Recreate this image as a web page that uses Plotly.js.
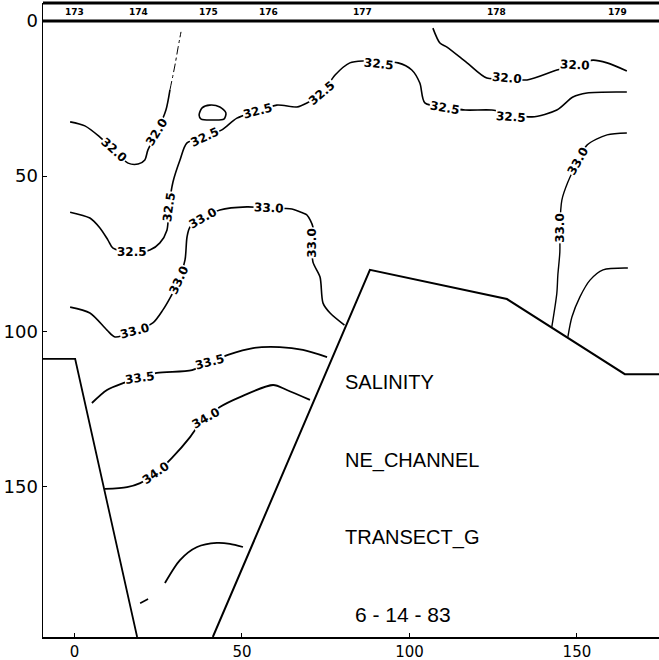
<!DOCTYPE html>
<html>
<head>
<meta charset="utf-8">
<script src="https://cdn.plot.ly/plotly-3.0.1.min.js"></script>
<style>html,body{margin:0;padding:0;background:#fff;}#chart{width:659px;height:660px;}</style>
</head>
<body>
<div id="chart"></div>
<script>
// ---- Data (distance along transect, depth) ----
var stationX = [0, 19, 40, 58, 86, 126, 162];
var stationLabels = ['173', '174', '175', '176', '177', '178', '179'];

var xTicks = [0, 50, 100, 150];
var yTicks = [0, 50, 100, 150];

// bottom profile
var bathyLeftX = [-9.4, 0.2, 18.7];
var bathyLeftY = [108.9, 108.9, 198.5];
var bathyRightX = [41.3, 88.2, 129.1, 164.3, 174.5];
var bathyRightY = [198.5, 80.2, 89.6, 113.8, 113.8];

// salinity isolines
var c320aX = [-1.3, 3.1, 7.6, 11.8, 16.0, 19.0, 21.0, 21.9, 24.6, 27.3, 28.5];
var c320aY = [32.5, 33.8, 37.4, 41.6, 45.8, 46.1, 44.8, 41.6, 35.8, 28.7, 22.2];
var c320aTopX = [28.5, 30.0, 30.9, 31.8];
var c320aTopY = [22.2, 14.2, 8.7, 3.5];

var lensX = [37.2, 38.1, 40.4, 43.4, 45.2, 44.6, 41.0, 37.8, 37.2];
var lensY = [30.3, 28.0, 27.1, 27.7, 29.6, 31.6, 31.9, 31.6, 30.3];

var c325aX = [-1.3, 4.6, 7.6, 10.0, 11.5, 17.2, 22.5, 25.5, 27.6, 28.2, 29.4, 31.5, 33.6, 39.0, 44.0, 48.5, 54.8, 60.4, 66.4, 69.4, 73.9, 77.8, 82.2, 86.1, 91.2, 96.6, 100.7, 103.1, 104.6, 110.6, 116.6, 124.6, 130.6, 136.6, 144.0, 148.8, 153.0, 164.9];
var c325aY = [61.6, 63.5, 66.7, 70.6, 73.2, 74.4, 73.8, 71.5, 67.4, 59.9, 51.9, 44.8, 39.3, 37.4, 35.1, 31.3, 29.0, 27.1, 27.7, 26.4, 23.2, 17.4, 13.5, 12.9, 13.2, 13.5, 15.8, 20.0, 26.4, 27.7, 28.7, 28.7, 30.0, 30.9, 28.7, 24.5, 23.2, 22.9];

var c320bX = [107.0, 109.1, 111.2, 117.2, 123.1, 129.1, 135.1, 144.0, 149.4, 154.8, 159.0, 164.9];
var c320bY = [2.3, 7.1, 8.4, 13.5, 18.4, 18.4, 19.0, 15.8, 14.2, 12.6, 13.5, 16.1];

var c330bX = [164.9, 159.0, 153.0, 150.3, 147.3, 145.5, 144.9, 144.9, 144.3, 144.0, 142.5];
var c330bY = [36.1, 36.7, 40.0, 45.1, 51.9, 57.7, 66.7, 74.4, 81.9, 87.7, 98.6];

var c335bX = [165.2, 157.8, 153.9, 150.9, 148.5, 147.3];
var c335bY = [79.6, 80.2, 83.5, 88.9, 95.4, 101.8];

var c330aX = [-1.3, 4.6, 9.7, 12.1, 18.1, 23.4, 26.4, 28.5, 31.2, 33.0, 33.6, 34.5, 38.4, 43.4, 51.5, 58.1, 64.9, 68.2, 69.4, 71.2, 70.9, 71.2, 73.3, 74.2, 76.3, 80.6];
var c330aY = [92.2, 94.1, 99.6, 101.8, 99.9, 97.3, 93.1, 89.3, 83.5, 77.0, 69.6, 66.4, 63.5, 60.9, 59.9, 60.3, 60.6, 61.9, 62.5, 66.4, 71.5, 77.7, 82.5, 90.9, 94.1, 98.0];

var c335aX = [5.2, 9.7, 14.5, 19.5, 24.6, 35.1, 40.4, 45.8, 53.3, 61.3, 68.2, 75.4];
var c335aY = [123.1, 118.9, 116.7, 115.0, 113.4, 112.5, 109.9, 107.6, 105.4, 105.1, 106.0, 108.3];

var c340X = [9.1, 15.7, 19.6, 24.3, 29.1, 34.5, 36.0, 39.3, 43.4, 49.4, 59.3, 63.4, 70.3];
var c340Y = [150.8, 150.2, 148.9, 145.7, 140.8, 134.1, 131.8, 127.9, 124.4, 121.2, 117.3, 118.9, 122.1];

var c345X = [27.0, 31.5, 36.6, 42.5, 46.4, 50.3];
var c345Y = [181.1, 173.7, 169.5, 168.2, 168.5, 169.5];
var c345DashX = [19.6, 23.1];
var c345DashY = [187.6, 185.6];

// isoline labels
var labelText = ['32.0', '32.0', '32.5', '32.5', '32.5', '32.5', '32.5', '32.5', '32.5', '32.5', '32.0', '32.0', '33.0', '33.0', '33.0', '33.0', '33.0', '33.0', '33.0', '33.5', '33.5', '34.0', '34.0'];
var labelX = [11.8, 24.6, 17.2, 28.2, 39.0, 54.8, 73.9, 90.9, 110.6, 130.3, 129.1, 149.4, 150.3, 144.9, 18.1, 31.2, 38.4, 58.1, 70.9, 19.5, 40.4, 24.3, 39.3];
var labelY = [41.6, 35.8, 74.4, 59.9, 37.4, 29.0, 23.2, 13.7, 27.9, 30.8, 18.4, 14.2, 45.1, 66.7, 99.9, 83.5, 63.5, 60.3, 71.5, 115.0, 109.9, 145.7, 127.9];
var labelAngle = [42, -58, 0, -82, -25, -15, -40, 6, 10, 4, 5, 3, -60, -90, -15, -65, -30, 3, -90, -8, -15, -35, -30];

var infoText = ['SALINITY', 'NE_CHANNEL', 'TRANSECT_G', '6 - 14 - 83'];
var infoY = [116.3, 141.5, 166.5, 191.4];

// ---- Build traces ----
function line(x, y, w, dash, shape) {
  return {x: x, y: y, type: 'scatter', mode: 'lines', hoverinfo: 'skip', showlegend: false,
    line: {color: '#000', width: w, dash: dash || 'solid', shape: shape || 'spline', smoothing: 0.8}};
}
var traces = [
  line(bathyLeftX, bathyLeftY, 1.8, 'solid', 'linear'),
  line(bathyRightX, bathyRightY, 2, 'solid', 'linear'),
  line(c320aX, c320aY, 1.6),
  line(c320aTopX, c320aTopY, 1, 'dashdot'),
  line(lensX, lensY, 1.6),
  line(c325aX, c325aY, 1.6),
  line(c320bX, c320bY, 1.6),
  line(c330bX, c330bY, 1.4),
  line(c335bX, c335bY, 1.4),
  line(c330aX, c330aY, 1.6),
  line(c335aX, c335aY, 1.8),
  line(c340X, c340Y, 1.8),
  line(c345X, c345Y, 1.8),
  line(c345DashX, c345DashY, 1.6, 'dash', 'linear')
];

var annotations = [];
for (var i = 0; i < labelText.length; i++) {
  annotations.push({x: labelX[i], y: labelY[i], xref: 'x', yref: 'y', text: labelText[i],
    showarrow: false, textangle: labelAngle[i], bgcolor: '#fff', borderpad: 0,
    font: {family: 'DejaVu Sans', size: 12, color: '#000', weight: 'bold'}});
}
for (var j = 0; j < stationLabels.length; j++) {
  annotations.push({x: stationX[j], y: -2.9, xref: 'x', yref: 'y', text: stationLabels[j],
    showarrow: false, font: {family: 'DejaVu Sans', size: 9, color: '#000', weight: 'bold'}});
}
for (var k = 0; k < infoText.length; k++) {
  annotations.push({x: k === 3 ? 83.1 : 80.1, y: infoY[k], xref: 'x', yref: 'y', text: infoText[k],
    showarrow: false, xanchor: 'left', yanchor: 'middle',
    font: {family: 'Liberation Sans', size: k === 3 ? 21 : 20, color: '#000'}});
}

var layout = {
  width: 659, height: 660,
  margin: {l: 43, r: 0, t: 3, b: 23},
  paper_bgcolor: '#fff', plot_bgcolor: '#fff',
  showlegend: false,
  xaxis: {range: [-9.4, 174.5], tickvals: xTicks, ticktext: xTicks.map(String), showgrid: false, zeroline: false,
    showline: true, linecolor: '#000', linewidth: 2, ticks: 'inside', ticklen: 4, tickcolor: '#000',
    tickfont: {family: 'DejaVu Sans', size: 15, color: '#000'}},
  yaxis: {range: [198.5, -5.8], tickvals: yTicks, ticktext: yTicks.map(String), showgrid: false, zeroline: false,
    showline: true, linecolor: '#000', linewidth: 1.5, ticks: 'inside', ticklen: 4, tickcolor: '#000',
    tickfont: {family: 'DejaVu Sans', size: 18, color: '#000'}},
  shapes: [
    {type: 'line', xref: 'paper', yref: 'paper', x0: 0, x1: 1, y0: 1, y1: 1, line: {color: '#000', width: 3}},
    {type: 'line', xref: 'paper', yref: 'y', x0: 0, x1: 1, y0: 0, y1: 0, line: {color: '#000', width: 3}}
  ],
  annotations: annotations
};

Plotly.newPlot('chart', traces, layout, {staticPlot: true, displayModeBar: false});
</script>
</body>
</html>
